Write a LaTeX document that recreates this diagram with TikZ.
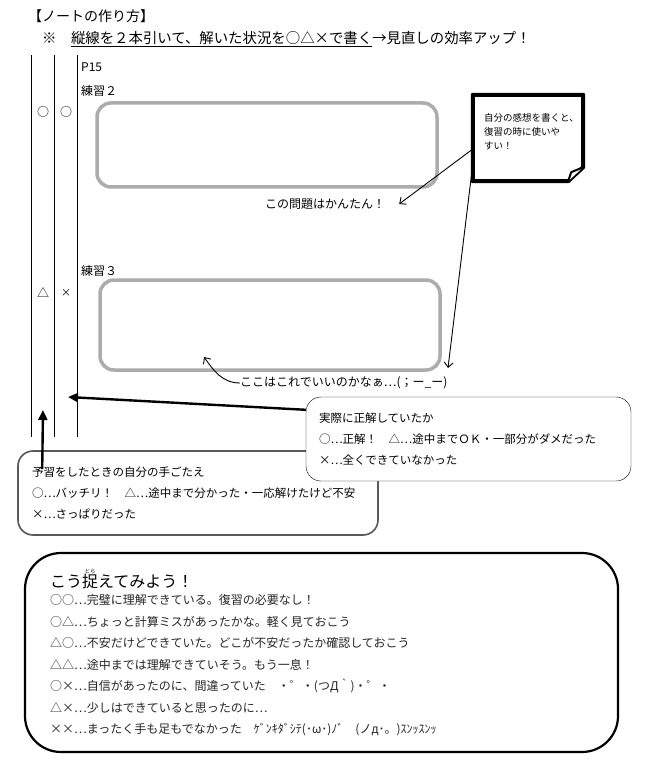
\documentclass[tikz,border=0pt]{standalone}
\usepackage{fontspec}
\setmainfont{Noto Sans CJK JP}
\usetikzlibrary{arrows.meta}
\newcommand\jsize[2]{\fontsize{#1}{#2}\selectfont}
\newcommand\kanaruby[2]{\leavevmode\rlap{\raisebox{0.92em}{\makebox[1em][c]{\jsize{5.5}{6}#2}}}#1}

\begin{document}
\begin{tikzpicture}[x=1pt, y=-1pt, font=\jsize{12}{14},
  label text/.style={inner sep=0pt, anchor=west},
  mark text/.style={inner sep=0pt, font=\jsize{12}{14}},
  gray frame/.style={draw=gray!65, line width=3.5pt, rounded corners=14pt},
  memo line/.style={-{Straight Barb[length=5pt,width=9pt]}, line width=0.9pt},
  bold line/.style={line width=2.4pt, -{Triangle[length=10pt,width=9pt]}},
  hint box/.style={draw, fill=white, rounded corners=15pt, align=left, inner xsep=13pt, font=\jsize{11.5}{21}}]
\useasboundingbox (0,0) rectangle (654,767);
\fill[white] (0,0) rectangle (654,767);

% Heading lines
\node[label text, font=\jsize{14}{16}] (title) at (28,16) {【ノートの作り方】};
\node[label text, font=\jsize{14.4}{16}] (rule) at (42,39) {※　\underline{縦線を２本引いて、解いた状況を○△×で書く}→見直しの効率アップ！};

% Two columns of marks
\foreach \x in {31,54,77}
  \draw[line width=0.8pt] (\x,55) -- (\x,437);

% Exercise 2
\node[label text] (page) at (81,67) {P15};
\node[label text] (ex2) at (81,91) {練習２};
\node[mark text] (m2a) at (43,112) {○};
\node[mark text] (m2b) at (66,112) {○};
\node[gray frame, minimum width=340, minimum height=84] (box2) at (267,145) {};
\node[label text, anchor=center] (easy) at (325,204) {この問題はかんたん！};

% Exercise 3
\node[label text] (ex3) at (81,271) {練習３};
\node[mark text] (m3a) at (43,293) {△};
\node[mark text, font=\jsize{10}{12}] (m3b) at (66,293) {×};
\node[gray frame, minimum width=340, minimum height=90] (box3) at (270,325) {};
\node[label text] (worry) at (240,383) {ここはこれでいいのかなぁ…(；ー\_ー)};
\coordinate (spot) at (204,357);
\draw[memo line] (worry.west) to[out=180, in=-55] (spot);

% Sticky note
\node[minimum width=110, minimum height=86, inner sep=0pt] (memo) at (528,138) {};
\draw[line width=4pt, line join=round] (memo.north west) -- (memo.north east) -- ([yshift=14pt]memo.south east) -- ([xshift=-15pt]memo.south east) -- (memo.south west) -- cycle;
\filldraw[line width=2pt, line join=round, fill=white] ([yshift=14pt]memo.south east) -- ([xshift=-12pt,yshift=9pt]memo.south east) -- ([xshift=-15pt]memo.south east);
\node[label text, anchor=north west, align=left, font=\jsize{9.5}{14}] (memotext) at (484,113) {自分の感想を書くと、\\%
復習の時に使いや\\%
すい！};
\draw[memo line] ([yshift=-11pt]memo.west) -- ([xshift=14pt]easy.east);
\coordinate (spot2) at (448,368);
\draw[memo line] ([yshift=-26pt]memo.west) -- (spot2);

% Legend boxes
\node[hint box, draw=black!65, line width=1.6pt, minimum width=360, minimum height=84, text width=332, inner xsep=14pt] (feel) at (198,493) {予習をしたときの自分の手ごたえ\\%
○…バッチリ！　△…途中まで分かった・一応解けたけど不安\\%
×…さっぱりだった};
\coordinate (markA) at (43,410);
\draw[bold line] ([xshift=25pt,yshift=-19pt]feel.north west) -- (markA);

\node[hint box, minimum width=325, minimum height=84, text width=299] (check) at (468.5,439) {実際に正解していたか\\%
○…正解！　△…途中までＯＫ・一部分がダメだった\\%
×…全くできていなかった};
\coordinate (markB) at (68,397);
\draw[bold line] ([yshift=-13pt]check.north west) -- (markB);

% Summary
\node[draw, line width=2.2pt, rounded corners=36pt, minimum width=593, minimum height=199] (frame) at (321.5,652.5) {};
\node[label text, font=\jsize{16}{18}] (catch) at (50,579) {こう\kanaruby{捉}{とら}えてみよう！};
\node[label text, anchor=north west, align=left, font=\jsize{12}{21.5}, text=black!85] (legend) at (50,594.5) {○○…完璧に理解できている。復習の必要なし！\\%
○△…ちょっと計算ミスがあったかな。軽く見ておこう\\%
△○…不安だけどできていた。どこが不安だったか確認しておこう\\%
△△…途中までは理解できていそう。もう一息！\\%
○×…自信があったのに、間違っていた　・゜・(つД｀)・゜・\\%
△×…少しはできていると思ったのに…\\%
××…まったく手も足もでなかった　ｹﾞﾝｷﾀﾞｼﾃ(･ω･)ﾉﾞ　(ノд･。)ｽﾝｯｽﾝｯ};

\end{tikzpicture}
\end{document}
